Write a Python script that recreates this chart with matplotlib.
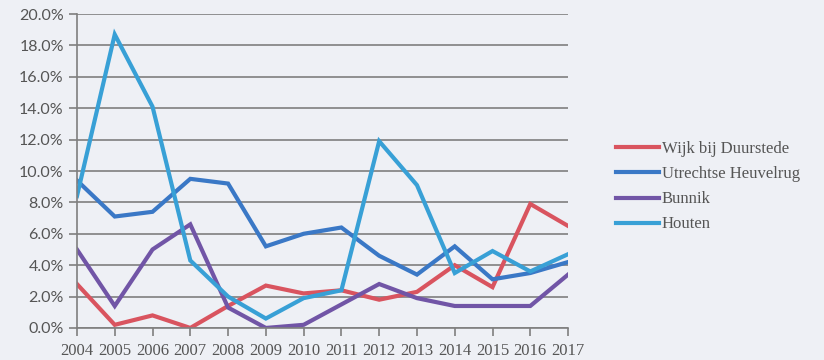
import matplotlib.pyplot as plt
from matplotlib.ticker import FuncFormatter

years = list(range(2004, 2018))

wijk = [2.8, 0.2, 0.8, 0.0, 1.4, 2.7, 2.2, 2.4, 1.8, 2.3, 4.0, 2.6, 7.9, 6.5]
heuvelrug = [9.4, 7.1, 7.4, 9.5, 9.2, 5.2, 6.0, 6.4, 4.6, 3.4, 5.2, 3.1, 3.5, 4.2]
bunnik = [5.0, 1.4, 5.0, 6.6, 1.3, 0.0, 0.2, 1.5, 2.8, 1.9, 1.4, 1.4, 1.4, 3.4]
houten = [8.4, 18.7, 14.1, 4.3, 2.0, 0.6, 1.9, 2.4, 11.9, 9.1, 3.5, 4.9, 3.6, 4.7]

names = ["Wijk bij Duurstede", "Utrechtse Heuvelrug", "Bunnik", "Houten"]
colors = ["#d9545f", "#3a78c6", "#7155a6", "#38a0d6"]

bg = "#eef0f5"
grid = "#7f7f7f"

fig = plt.figure(figsize=(8.24, 3.6), dpi=100, facecolor=bg)
ax = fig.add_axes([0.0934, 0.089, 0.596, 0.872], facecolor=bg)

for vals, name, c in zip([wijk, heuvelrug, bunnik, houten], names, colors):
    ax.plot(years, vals, color=c, lw=3, label=name, solid_joinstyle="miter")

ax.set_xlim(2004, 2017)
ax.set_ylim(0, 20)
ax.set_yticks(range(0, 21, 2))
ax.set_xticks(years)
ax.yaxis.set_major_formatter(FuncFormatter(lambda v, p: "%.1f%%" % v))
ax.grid(axis="y", color=grid, lw=1.2)
ax.set_axisbelow(True)

for s in ["top", "right"]:
    ax.spines[s].set_visible(False)
for s in ["left", "bottom"]:
    ax.spines[s].set_color(grid)
    ax.spines[s].set_linewidth(1.2)

ax.tick_params(axis="both", colors=grid, length=6, width=1.2, labelcolor="#555555")
ax.tick_params(axis="x", pad=5)
for lab in ax.get_xticklabels():
    lab.set_fontfamily("Liberation Serif")
    lab.set_fontsize(12)
for lab in ax.get_yticklabels():
    lab.set_fontfamily("Lato")
    lab.set_fontsize(11.5)

# legend sits to the right of the plot, about mid-height
leg = fig.legend(loc="upper left", bbox_to_anchor=(0.729, 0.65), frameon=False,
                 prop={"family": "Liberation Serif", "size": 12},
                 handlelength=2.6, handletextpad=0.15, labelspacing=0.55)
for t in leg.get_texts():
    t.set_color("#555555")

fig.savefig("out.png", dpi=100, facecolor=bg)
